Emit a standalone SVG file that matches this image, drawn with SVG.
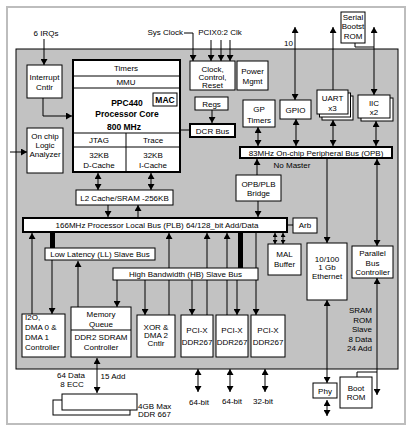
<svg xmlns="http://www.w3.org/2000/svg" width="411" height="432" viewBox="0 0 411 432">
<style>
text{font-family:"Liberation Sans",Arial,sans-serif;font-size:8px;fill:#000;text-anchor:middle}
.l{text-anchor:start}.r{text-anchor:end}.bd{font-weight:bold;font-size:8.5px}
.b{fill:#fff;stroke:#000;stroke-width:1}
.tb{fill:#fff;stroke:#000;stroke-width:2}
.c line,.c polyline{stroke:#000;stroke-width:1;fill:none}
.ae{marker-end:url(#a)}.aa{marker-start:url(#a);marker-end:url(#a)}.as{marker-start:url(#a)}
.sm{marker-start:url(#s);marker-end:url(#s)}
</style>
<defs>
<marker id="a" markerUnits="userSpaceOnUse" markerWidth="6" markerHeight="7" refX="6" refY="3.5" orient="auto-start-reverse"><path d="M0,0L6,3.5L0,7z" fill="#000"/></marker>
<marker id="s" markerUnits="userSpaceOnUse" markerWidth="4" markerHeight="5" refX="4" refY="2.5" orient="auto-start-reverse"><path d="M0,0L4,2.5L0,5z" fill="#000"/></marker>
</defs>
<rect x="7" y="7" width="398" height="417" fill="#fff" stroke="#bdbdbd" stroke-width="2"/>
<rect id="chip" x="16" y="49" width="382" height="320" fill="#c2c2c2" stroke="#000" stroke-width="1"/>
<g id="connectors" class="c">
<line x1="44" y1="39" x2="44" y2="65" class="ae"/>
<polyline points="43,98 43,116 72,116" class="ae"/>
<line x1="10" y1="152" x2="27" y2="152" class="ae"/>
<polyline points="184,33 193,33 193,61" class="ae"/>
<line x1="211" y1="40" x2="211" y2="61" class="ae"/>
<line x1="221" y1="40" x2="221" y2="61" class="ae"/>
<line x1="230" y1="40" x2="230" y2="61" class="ae"/>
<line x1="180" y1="130" x2="190" y2="130"/>
<line x1="212" y1="110" x2="212" y2="123" class="ae"/>
<line x1="258" y1="127" x2="258" y2="146" class="aa"/>
<line x1="295" y1="27" x2="295" y2="100" class="aa"/>
<line x1="296" y1="119" x2="296" y2="146" class="aa"/>
<line x1="333" y1="27" x2="333" y2="90" class="as"/>
<line x1="333" y1="120" x2="333" y2="146" class="aa"/>
<line x1="374" y1="27" x2="374" y2="95" class="aa"/>
<polyline points="355,43 355,47 374,47"/>
<line x1="376" y1="121" x2="376" y2="146" class="aa"/>
<line x1="257" y1="175" x2="257" y2="159" class="ae"/>
<line x1="258" y1="201" x2="258" y2="217" class="ae"/>
<line x1="327" y1="159" x2="327" y2="243" class="ae"/>
<line x1="377" y1="159" x2="377" y2="246" class="aa"/>
<line x1="98" y1="173" x2="98" y2="190" class="aa"/>
<line x1="151" y1="173" x2="151" y2="190" class="aa"/>
<line x1="108" y1="205" x2="108" y2="217" class="ae"/>
<line x1="138" y1="217" x2="138" y2="205" class="ae"/>
<line x1="287" y1="225" x2="293" y2="225"/>
<line x1="275" y1="233" x2="275" y2="244" class="sm"/>
<line x1="283" y1="233" x2="283" y2="244" class="sm"/>
<line x1="327" y1="300" x2="327" y2="383" class="aa"/>
<line x1="327" y1="400" x2="327" y2="416" class="aa"/>
<line x1="377" y1="278" x2="377" y2="395" class="aa"/>
<polyline points="357,377 357,372 377,372"/>
<line x1="32" y1="314" x2="32" y2="233" class="ae"/>
<rect x="50" y="232" width="5" height="16" fill="#000"/>
<rect x="238" y="232" width="5" height="36" fill="#000"/>
<line x1="52" y1="260" x2="52" y2="314" class="ae"/>
<line x1="78" y1="307" x2="78" y2="261" class="ae"/>
<line x1="117" y1="280" x2="117" y2="307" class="ae"/>
<line x1="145" y1="280" x2="145" y2="315" class="ae"/>
<line x1="169" y1="315" x2="169" y2="233" class="ae"/>
<line x1="192" y1="280" x2="192" y2="315" class="ae"/>
<line x1="207" y1="315" x2="207" y2="233" class="ae"/>
<line x1="227" y1="315" x2="227" y2="233" class="ae"/>
<line x1="237" y1="280" x2="237" y2="315" class="ae"/>
<line x1="256" y1="233" x2="256" y2="315" class="ae"/>
<line x1="198" y1="369" x2="198" y2="392" class="aa"/>
<line x1="230" y1="369" x2="230" y2="392" class="aa"/>
<line x1="265" y1="369" x2="265" y2="392" class="aa"/>
<line x1="97" y1="358" x2="97" y2="393" class="aa"/>
</g>
<g id="labels">
<text x="46" y="36">6 IRQs</text>
<text x="183" y="35" class="r">Sys Clock</text>
<text x="220" y="35">PCIX0:2 Clk</text>
<text x="293" y="46" class="r">10</text>
<text x="292" y="168">No Master</text>
<text x="372" y="313" class="r">SRAM</text>
<text x="372" y="323" class="r">ROM</text>
<text x="372" y="332" class="r">Slave</text>
<text x="372" y="342" class="r">8 Data</text>
<text x="372" y="351" class="r">24 Add</text>
<text x="71" y="378">64 Data</text>
<text x="72" y="387">8 ECC</text>
<text x="113" y="379">15 Add</text>
<text x="138" y="409" class="l">4GB Max</text>
<text x="138" y="417" class="l">DDR 667</text>
<text x="199" y="405">64-bit</text>
<text x="232" y="404">64-bit</text>
<text x="263" y="404">32-bit</text>
</g>
<g id="interrupt"><rect class="b" x="27" y="65" width="35" height="33"/><text x="44.5" y="80">Interrupt</text><text x="44.5" y="90">Cntlr</text></g>
<g id="ocla"><rect class="b" x="27" y="128" width="36" height="45"/><text x="45" y="139">On chip</text><text x="45" y="148">Logic</text><text x="45" y="157">Analyzer</text></g>
<g id="ppc440">
<rect class="tb" x="73" y="60" width="107" height="112"/>
<line x1="73" y1="76" x2="180" y2="76" stroke="#000"/>
<line x1="73" y1="88" x2="180" y2="88" stroke="#000"/>
<line x1="73" y1="133" x2="180" y2="133" stroke="#000"/>
<line x1="73" y1="147" x2="180" y2="147" stroke="#000"/>
<line x1="126" y1="133" x2="126" y2="172" stroke="#000"/>
<text x="126" y="71">Timers</text>
<text x="126" y="85">MMU</text>
<text x="127" y="106" class="bd">PPC440</text>
<text x="127" y="117" class="bd">Processor Core</text>
<text x="124" y="130" class="bd">800 MHz</text>
<g id="mac"><rect class="b" x="153" y="93" width="24" height="13" stroke-width="1.5"/><text x="165" y="103" class="bd">MAC</text></g>
<text x="99" y="143">JTAG</text><text x="153" y="143">Trace</text>
<text x="99" y="158">32KB</text><text x="99" y="168">D-Cache</text>
<text x="153" y="158">32KB</text><text x="153" y="168">I-Cache</text>
</g>
<g id="clock"><rect class="b" x="190" y="61" width="45" height="29"/><text x="212.5" y="71.5">Clock,</text><text x="212.5" y="79.5">Control,</text><text x="212.5" y="87.5">Reset</text></g>
<g id="power"><rect class="b" x="237" y="61" width="31" height="29"/><text x="252.5" y="74">Power</text><text x="252.5" y="84">Mgmt</text></g>
<g id="regs"><rect class="b" x="195" y="97" width="33" height="13"/><text x="211.5" y="107">Regs</text></g>
<g id="dcr"><rect class="tb" x="190" y="124" width="45" height="13"/><text x="212.5" y="133.5">DCR Bus</text></g>
<g id="gptimers"><rect class="b" x="243" y="100" width="32" height="27"/><text x="259" y="112">GP</text><text x="259" y="123">Timers</text></g>
<g id="gpio"><rect class="b" x="280" y="100" width="31" height="19"/><text x="295.5" y="113">GPIO</text></g>
<g id="uart"><rect class="b" x="322" y="96" width="31" height="24"/><rect class="b" x="319.5" y="93" width="31" height="24"/><rect class="b" x="317" y="90" width="31" height="24"/><text x="332.5" y="101">UART</text><text x="332.5" y="111">x3</text></g>
<g id="iic"><rect class="b" x="361" y="98" width="32" height="23"/><rect class="b" x="358" y="95" width="32" height="23"/><text x="374" y="106">IIC</text><text x="374" y="115">x2</text></g>
<g id="serialrom"><rect class="b" x="341" y="12" width="24" height="31"/><text x="353" y="20">Serial</text><text x="353" y="29">Bootst</text><text x="353" y="39">ROM</text></g>
<g id="opb"><rect class="tb" x="240" y="147" width="152" height="11"/><text x="316" y="155.5">83MHz On-chip Peripheral Bus (OPB)</text></g>
<g id="bridge"><rect class="b" x="236" y="175" width="45" height="26"/><text x="258.5" y="187">OPB/PLB</text><text x="258.5" y="196">Bridge</text></g>
<g id="l2"><rect class="b" x="76" y="190" width="97" height="15"/><text x="124.5" y="200.5">L2 Cache/SRAM -256KB</text></g>
<g id="plb"><rect class="tb" x="23" y="218" width="264" height="14"/><text x="157" y="228">166MHz Processor Local Bus (PLB) 64/128_bit Add/Data</text></g>
<g id="arb"><rect class="b" x="293" y="218" width="24" height="15"/><text x="305" y="228">Arb</text></g>
<g id="mal"><rect class="b" x="268" y="244" width="33" height="31"/><text x="284.5" y="257">MAL</text><text x="284.5" y="267">Buffer</text></g>
<g id="ethernet"><rect class="b" x="307" y="243" width="40" height="57"/><text x="327" y="262">10/100</text><text x="327" y="270">1 Gb</text><text x="327" y="279">Ethernet</text></g>
<g id="pbc"><rect class="b" x="352" y="246" width="41" height="32"/><text x="372.5" y="256">Parallel</text><text x="372.5" y="266">Bus</text><text x="372.5" y="275">Controller</text></g>
<g id="ll"><rect class="b" x="45" y="248" width="110" height="12"/><text x="100" y="257">Low Latency (LL) Slave Bus</text></g>
<g id="hb"><rect class="b" x="113" y="268" width="145" height="12"/><text x="185.5" y="277">High Bandwidth (HB) Slave Bus</text></g>
<g id="i2o"><rect class="b" x="22" y="314" width="43" height="43"/><text x="25" y="320" class="l">I2O,</text><text x="25" y="330" class="l">DMA 0 &amp;</text><text x="25" y="340" class="l">DMA 1</text><text x="25" y="350" class="l">Controller</text></g>
<g id="memory"><rect class="b" x="71" y="307" width="60" height="50"/><line x1="71" y1="330" x2="131" y2="330" stroke="#000"/><text x="101" y="317">Memory</text><text x="101" y="327">Queue</text><text x="101" y="340">DDR2 SDRAM</text><text x="101" y="350">Controller</text></g>
<g id="xor"><rect class="b" x="137" y="315" width="38" height="42"/><text x="156" y="330">XOR &amp;</text><text x="156" y="338">DMA 2</text><text x="156" y="346">Cntlr</text></g>
<g id="pcix1"><rect class="b" x="181" y="315" width="32" height="42"/><text x="197" y="333">PCI-X</text><text x="197" y="345">DDR267</text></g>
<g id="pcix2"><rect class="b" x="216" y="315" width="32" height="42"/><text x="232" y="333">PCI-X</text><text x="232" y="345">DDR267</text></g>
<g id="pcix3"><rect class="b" x="251" y="315" width="34" height="42"/><text x="268" y="333">PCI-X</text><text x="268" y="345">DDR267</text></g>
<g id="dimm"><rect class="b" x="53" y="400" width="77" height="15"/><rect class="b" x="62" y="394" width="75" height="16"/></g>
<g id="phy"><rect class="b" x="313" y="383" width="24" height="15"/><text x="325" y="393.5">Phy</text></g>
<g id="bootrom"><rect class="b" x="340" y="377" width="32" height="31"/><text x="356" y="391">Boot</text><text x="356" y="400">ROM</text></g>
</svg>
